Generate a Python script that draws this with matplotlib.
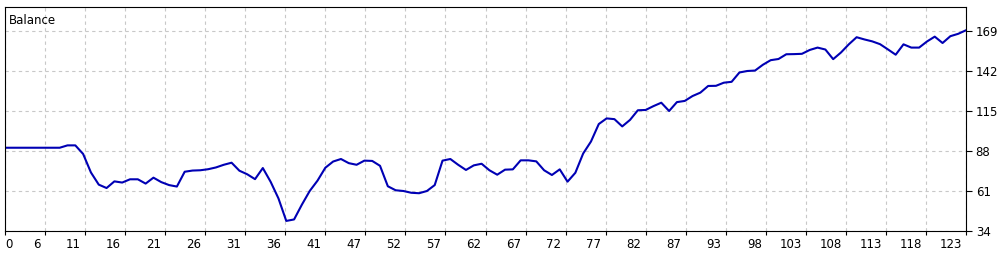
import matplotlib
matplotlib.use("Agg")
import matplotlib.pyplot as plt
import matplotlib.transforms as mtrans

# balance after each trade
balance = [90.2, 90.2, 90.2, 90.2, 90.2, 90.2, 90.2, 90.2, 91.8, 91.8,
           86.0, 73.5, 65.3, 63.0, 67.5, 66.7, 68.9, 68.9, 66.0, 70.0,
           67.0, 65.0, 64.0, 74.0, 74.8, 75.0, 75.7, 76.9, 78.7, 80.1,
           74.7, 72.3, 69.0, 76.5, 67.2, 56.0, 40.8, 41.8, 51.8, 61.0,
           68.0, 76.7, 80.9, 82.6, 79.8, 78.7, 81.5, 81.3, 78.0, 64.2,
           61.5, 61.0, 59.8, 59.5, 61.0, 65.0, 81.5, 82.6, 78.7, 75.2,
           78.3, 79.4, 75.0, 72.0, 75.4, 75.6, 81.7, 81.7, 81.0, 75.0,
           71.8, 75.6, 67.3, 73.3, 86.3, 94.4, 106.2, 110.0, 109.5, 104.6,
           109.0, 115.5, 115.7, 118.3, 120.6, 115.0, 121.0, 121.8, 125.1, 127.4,
           131.9, 132.0, 134.1, 134.7, 141.0, 142.0, 142.3, 146.2, 149.3, 150.1,
           153.3, 153.4, 153.6, 156.2, 157.8, 156.5, 150.0, 154.5, 160.0, 164.8,
           163.3, 162.0, 160.1, 156.6, 153.0, 160.0, 157.8, 157.8, 161.9, 165.2,
           160.9, 165.5, 167.1, 169.5]
trades = list(range(len(balance)))

x_labels = ["0", "6", "11", "16", "21", "26", "31", "36", "41", "47", "52", "57",
            "62", "67", "72", "77", "82", "87", "93", "98", "103", "108", "113",
            "118", "123"]
y_ticks = [34, 61, 88, 115, 142, 169]

W, H = 1005, 258
fig = plt.figure(figsize=(W / 100, H / 100), dpi=100)
left, right, top, bottom = 5, 966, 7, 231
ax = fig.add_axes([left / W, 1 - bottom / H, (right - left) / W, (bottom - top) / H])

ax.plot(trades, balance, color="#0000b4", lw=1.5, solid_joinstyle="round")

x_max = 123
ax.set_xlim(0, x_max)
ax.set_ylim(34, 169 + 24 * 0.675)

xt = [k * x_max / 24 for k in range(25)]
ax.set_xticks(xt)
ax.set_xticklabels(x_labels)
ax.set_yticks(y_ticks)
ax.yaxis.tick_right()

ax.grid(True, color="#c8c8c8", linestyle=(0, (3, 3)), linewidth=0.8)
ax.tick_params(axis="x", direction="out", length=3, width=0.8, labelsize=8.5,
               pad=2, colors="black")
ax.tick_params(axis="y", direction="out", length=4, width=0.8, labelsize=8.5,
               pad=3, colors="black")

shift = mtrans.ScaledTranslation(-3 / 72, 0, fig.dpi_scale_trans)
for i, lab in enumerate(ax.get_xticklabels()):
    if i == 0:
        lab.set_horizontalalignment("left")
    else:
        lab.set_horizontalalignment("right")
        lab.set_transform(lab.get_transform() + shift)

for s in ax.spines.values():
    s.set_linewidth(0.8)
    s.set_color("black")

ax.text(0.004, 0.97, "Balance", transform=ax.transAxes, ha="left", va="top",
        fontsize=8.5)

fig.savefig("out.png", dpi=100, facecolor="white")
